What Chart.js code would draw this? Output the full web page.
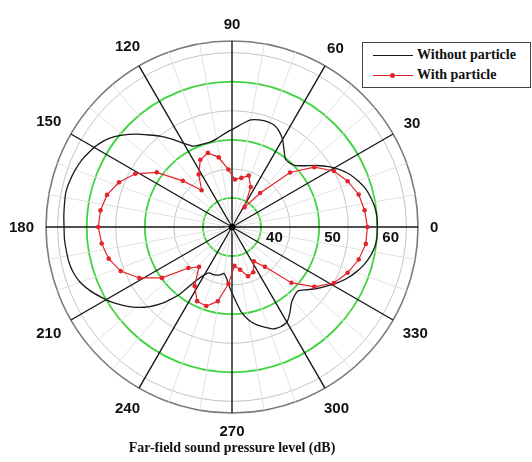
<!DOCTYPE html>
<html><head><meta charset="utf-8">
<script src="https://cdn.jsdelivr.net/npm/chart.js@4"></script>
<style>
html,body{margin:0;padding:0;background:#fff;}
#wrap{position:relative;width:532px;height:462px;overflow:hidden;}
#c{position:absolute;left:0;top:0;}
#legend{position:absolute;left:362px;top:42px;width:167px;height:44px;border:1px solid #444;background:#fff;font:bold 14px "Liberation Serif","Times New Roman",serif;color:#111;}
.row{position:absolute;left:0;height:16px;line-height:16px;}
.sample{position:absolute;left:10px;width:40px;top:8px;height:0;}
.txt{position:absolute;left:54px;top:0;white-space:nowrap;}
.dot{position:absolute;left:17px;top:-3px;width:5px;height:5px;border-radius:50%;background:#e3242b;}
#title{position:absolute;left:0;width:464px;top:440px;text-align:center;font:bold 14px "Liberation Serif","Times New Roman",serif;color:#111;}
</style></head>
<body>
<div id="wrap">
<canvas id="c" width="532" height="462"></canvas>
<div id="legend">
  <div class="row" style="top:4px;width:165px"><div class="sample" style="border-top:1.3px solid #1a1a1a"></div><div class="txt">Without particle</div></div>
  <div class="row" style="top:24px;width:165px"><div class="sample" style="border-top:1.3px solid #e3242b"><div class="dot"></div></div><div class="txt">With particle</div></div>
</div>
<div id="title">Far-field sound pressure level (dB)</div>
</div>
<script>
// Angular grid resolution of the category axis (degrees)
const angleStep = 0.4;
// "With particle": sampled every 7.2 degrees from 0 to 352.8
const withParticleStep = 7.2;
const withParticle = [58.3, 58.0, 57.5, 56.4, 55.0, 52.5, 48.7, 42.6, 39.0, 42.6,
  44.3, 43.6, 43.2, 44.9, 47.2, 48.4, 47.8, 45.7, 43.2, 46.6,
  51.0, 54.0, 55.9, 57.2, 57.8, 58.0, 57.6, 56.9, 55.6, 53.2,
  49.9, 45.3, 43.9, 47.0, 49.1, 49.3, 48.0, 44.8, 41.7, 42.5,
  43.9, 43.6, 42.0, 43.9, 49.0, 52.5, 55.0, 56.4, 57.5, 58.2];
// "Without particle": sampled every 4 degrees from 0 to 356
const withoutParticleStep = 4;
const withoutParticle = [60.0, 60.0, 59.8, 59.4, 58.9, 58.1, 57.2, 56.0, 54.6, 53.0,
  51.4, 50.2, 49.8, 49.9, 51.0, 52.4, 53.4, 54.0, 54.1, 54.0,
  53.7, 52.9, 52.1, 51.5, 50.9, 50.4, 50.1, 50.1, 50.2, 50.5,
  51.6, 53.2, 54.8, 56.3, 58.0, 59.6, 61.0, 62.0, 62.7, 63.3,
  63.7, 64.0, 64.2, 64.1, 64.0, 63.9, 63.9, 63.8, 63.7, 63.4,
  62.8, 61.8, 60.6, 59.4, 58.0, 56.5, 54.7, 52.5, 49.8, 46.2,
  44.5, 43.8, 43.8, 43.7, 43.5, 43.1, 43.9, 45.5, 47.3, 49.6,
  51.2, 52.3, 53.1, 53.9, 54.1, 53.9, 52.8, 51.6, 51.0, 50.8,
  51.8, 53.0, 54.2, 55.5, 56.7, 57.7, 58.6, 59.3, 59.8, 60.0];
const angleTicks = [0, 30, 60, 90, 120, 150, 180, 210, 240, 270, 300, 330];
const radialLabels = [40, 50, 60];
const rMin = 35, rMax = 67;

// Build the category table for the radar (counter-clockwise from 0 deg at right)
const N = Math.round(360 / angleStep);
const tenthsAt = i => (3600 - Math.round(i * angleStep * 10)) % 3600;
const labels = Array.from({length: N}, (_, i) => String(tenthsAt(i) / 10));
const indexOf = deg => Math.round(((360 - deg) % 360) / angleStep) % N;
const redData = new Array(N).fill(null);
withParticle.forEach((v, k) => { redData[indexOf(k * withParticleStep)] = v; });
const blackData = new Array(N).fill(null);
withoutParticle.forEach((v, k) => { blackData[indexOf(k * withoutParticleStep)] = v; });

const decor = {
  id: 'decor',
  afterDatasetsDraw(chart) {
    const s = chart.scales.r, ctx = chart.ctx;
    ctx.save();
    ctx.fillStyle = '#000';
    ctx.beginPath(); ctx.arc(s.xCenter, s.yCenter, 3.5, 0, Math.PI * 2); ctx.fill();
    ctx.restore();
  },
  afterDraw(chart) {
    const s = chart.scales.r, ctx = chart.ctx;
    ctx.save();
    ctx.font = 'bold 15px "Liberation Sans", Arial, sans-serif';
    ctx.fillStyle = '#111';
    ctx.textAlign = 'center'; ctx.textBaseline = 'middle';
    angleTicks.forEach(a => {
      const t = String(a);
      const w = ctx.measureText(t).width, h = 11;
      const rad = a * Math.PI / 180;
      const ext = Math.abs(Math.cos(rad)) * w / 2 + Math.abs(Math.sin(rad)) * h / 2;
      const p = s.getPointPosition(indexOf(a), s.drawingArea + 12 + ext);
      ctx.fillText(t, p.x, p.y + 1);
    });
    ctx.textAlign = 'left';
    radialLabels.forEach(v => {
      const d = s.getDistanceFromCenterForValue(v);
      ctx.fillText(String(v), s.xCenter + d + 5, s.yCenter + 11);
    });
    ctx.restore();
  }
};

new Chart(document.getElementById('c'), {
  type: 'radar',
  data: {
    labels: labels,
    datasets: [
      {label: 'Without particle', data: blackData, borderColor: '#1a1a1a', borderWidth: 1.3,
       pointRadius: 0, tension: 0.15, spanGaps: true, fill: false, order: 1},
      {label: 'With particle', data: redData, borderColor: '#e3242b', borderWidth: 1.2,
       pointRadius: 2.3, pointBackgroundColor: '#e3242b', pointBorderWidth: 0,
       tension: 0, spanGaps: true, fill: false, order: 0}
    ]
  },
  options: {
    responsive: false, animation: false,
    layout: {padding: {left: 46, right: 114, top: 41, bottom: 49}},
    plugins: {legend: {display: false}, tooltip: {enabled: false}},
    elements: {point: {hitRadius: 0}},
    scales: {
      r: {
        min: rMin, max: rMax, startAngle: 90,
        ticks: {display: false, stepSize: 5},
        pointLabels: {display: false},
        grid: {
          circular: true,
          color: c => {
            const v = c.tick ? c.tick.value : 0;
            if (v === rMax) return '#7a7a7a';
            if (v % 10 === 0) return '#3fd43f';
            return '#c4c4c4';
          },
          lineWidth: c => {
            const v = c.tick ? c.tick.value : 0;
            if (v === rMax) return 1.6;
            if (v % 10 === 0) return 1.8;
            return 1;
          }
        },
        angleLines: {
          color: c => {
            const t = tenthsAt(c.index);
            if (t % 300 === 0) return '#151515';
            if (t % 100 === 0) return '#e2e2e2';
            return 'rgba(0,0,0,0)';
          },
          lineWidth: c => {
            const t = tenthsAt(c.index);
            if (t % 300 === 0) return 1.4;
            if (t % 100 === 0) return 1;
            return 0;
          }
        }
      }
    }
  },
  plugins: [decor]
});
</script>
</body></html>
